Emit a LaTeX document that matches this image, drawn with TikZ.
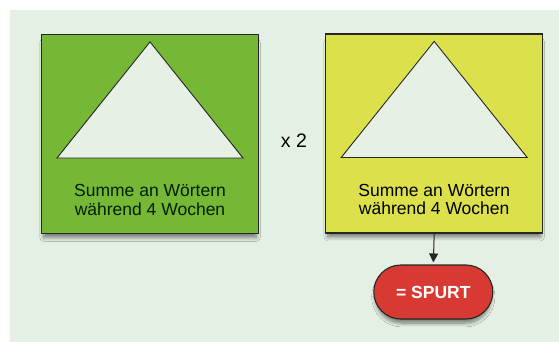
\documentclass[tikz,border=0pt]{standalone}
\usepackage{fontspec}
\setmainfont{Liberation Sans}
\usetikzlibrary{arrows.meta,shapes.misc,shadows.blur}

\definecolor{bgmint}{HTML}{E4F0E3}
\definecolor{boxgreen}{HTML}{76B735}
\definecolor{boxyellow}{HTML}{DCE04B}
\definecolor{spurtred}{HTML}{D83A33}
\definecolor{edgegray}{HTML}{262626}
\definecolor{pyramidfill}{HTML}{E6F0E4}

\tikzset{
  periodbox/.style={draw=edgegray, line width=1.2pt, inner sep=0pt,
    minimum width=217pt, minimum height=199pt,
    blur shadow={shadow xshift=0pt, shadow yshift=-6pt, shadow scale=0.98,
      shadow blur steps=8, shadow blur radius=4pt, shadow opacity=50}},
  pyramid/.style={draw=edgegray, line width=0.9pt, fill=pyramidfill, line join=miter},
  boxlabel/.style={align=center, font=\fontsize{17.5}{18.7}\selectfont},
  spurtpill/.style={rounded rectangle, draw=edgegray, line width=1.1pt,
    fill=spurtred, text=white, minimum width=119pt, minimum height=54pt,
    inner sep=0pt, font=\fontsize{17.5}{20}\bfseries,
    blur shadow={shadow xshift=0pt, shadow yshift=-5pt, shadow scale=0.97,
      shadow blur steps=8, shadow blur radius=4pt, shadow opacity=50}},
}

\begin{document}
\begin{tikzpicture}[x=1pt, y=-1pt]
\useasboundingbox (0,0) rectangle (559,342);
% backdrop, white strip left and top
\fill[bgmint] (10,10) rectangle (559,342);

% the two four-week boxes
\node[periodbox, fill=boxgreen] (greenbox) at (150,134) {};
\node[periodbox, fill=boxyellow] (yellowbox) at (434.2,133.5) {};

% pyramids inside the boxes
\foreach \b in {greenbox,yellowbox}{
  \draw[pyramid] ([yshift=-8pt]\b.north)
    -- ([xshift=93pt, yshift=-24pt]\b.center)
    -- ([xshift=-93pt, yshift=-24pt]\b.center) -- cycle;
}

% labels under the pyramids
\node[boxlabel, text=black!88!green] (greenlabel) at ([yshift=-66pt]greenbox.center)
  {Summe an Wörtern\\während 4 Wochen};
\node[boxlabel] (yellowlabel) at ([yshift=-66pt]yellowbox.center)
  {Summe an Wörtern\\während 4 Wochen};

% factor between the boxes
\node[font=\fontsize{19.5}{21}\selectfont] (factor) at (294,141) {x 2};

% result
\node[spurtpill] (spurt) at (433.3,292) {= SPURT};
\draw[-{Triangle[length=9pt, width=9pt]}, line width=1pt, edgegray, shorten >=2pt]
  (yellowbox.south) -- (spurt.north);
\end{tikzpicture}
\end{document}
